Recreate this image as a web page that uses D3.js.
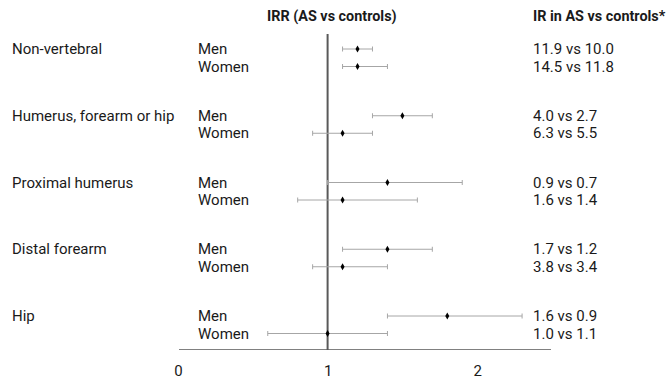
<!DOCTYPE html>
<html>
<head>
<meta charset="utf-8">
<script src="https://cdn.jsdelivr.net/npm/d3@7"></script>
<style>
  body { margin: 0; background: #fff; }
  text { font-family: Roboto, "Open Sans", sans-serif; fill: #1a1a1a; }
</style>
</head>
<body>
<div id="chart"></div>
<script>
var sites = ["Non-vertebral", "Humerus, forearm or hip", "Proximal humerus", "Distal forearm", "Hip"];
var sexes = ["Men", "Women"];
var irr = [1.2, 1.2, 1.5, 1.1, 1.4, 1.1, 1.4, 1.1, 1.8, 1.0];
var lower = [1.1, 1.1, 1.3, 0.9, 1.0, 0.8, 1.1, 0.9, 1.4, 0.6];
var upper = [1.3, 1.4, 1.7, 1.3, 1.9, 1.6, 1.7, 1.4, 2.3, 1.4];
var irText = ["11.9 vs 10.0", "14.5 vs 11.8", "4.0 vs 2.7", "6.3 vs 5.5", "0.9 vs 0.7",
              "1.6 vs 1.4", "1.7 vs 1.2", "3.8 vs 3.4", "1.6 vs 0.9", "1.0 vs 1.1"];
var xTicks = [0, 1, 2];

(function () {
  var width = 670;
  var height = 382;
  var fs = "15px";

  var svg = d3.select("#chart")
    .append("svg")
    .attr("width", width)
    .attr("height", height);

  var x = d3.scaleLinear().domain([0, 2.5]).range([178, 552]);
  // one step per site, small offset per sex
  var yGroup = d3.scaleLinear().domain([0, sites.length - 1]).range([49, 316]);
  var ySex = d3.scalePoint().domain(sexes).range([0, 17.5]);

  var rows = irr.map(function (v, i) {
    var g = Math.floor(i / 2), s = i % 2;
    return { site: sites[g], sex: sexes[s], est: v, lo: lower[i], hi: upper[i], ir: irText[i],
             y: yGroup(g) + ySex(sexes[s]) };
  });

  // headers
  svg.append("text")
    .attr("x", 267).attr("y", 21)
    .style("font-weight", "bold").style("font-size", "14.4px")
    .text("IRR (AS vs controls)");
  svg.append("text")
    .attr("x", 533).attr("y", 21)
    .style("font-weight", "bold").style("font-size", "14.4px")
    .text("IR in AS vs controls*");

  // site labels
  svg.selectAll(".site")
    .data(sites)
    .enter().append("text")
    .attr("class", "site")
    .attr("x", 12)
    .attr("y", function (d, i) { return yGroup(i) + 5; })
    .style("font-size", fs)
    .text(function (d) { return d; });

  // sex labels
  svg.selectAll(".sex")
    .data(rows)
    .enter().append("text")
    .attr("class", "sex")
    .attr("x", 198)
    .attr("y", function (d) { return d.y + 5; })
    .style("font-size", fs)
    .text(function (d) { return d.sex; });

  // IR text
  svg.selectAll(".ir")
    .data(rows)
    .enter().append("text")
    .attr("class", "ir")
    .attr("x", 533)
    .attr("y", function (d) { return d.y + 5; })
    .style("font-size", fs)
    .text(function (d) { return d.ir; });

  // x axis
  var axis = svg.append("g")
    .attr("transform", "translate(0,349)")
    .call(d3.axisBottom(x).tickValues(xTicks).tickSize(0).tickPadding(16).tickFormat(d3.format("d")));
  axis.select(".domain").attr("stroke", "#808080").attr("stroke-width", 1).attr("d", "M179,0.5H551");
  axis.selectAll("text")
    .style("font-size", fs)
    .style("font-family", "Roboto, sans-serif")
    .attr("fill", "#1a1a1a");

  // reference line at IRR = 1
  svg.append("line")
    .attr("x1", x(1)).attr("x2", x(1))
    .attr("y1", 34).attr("y2", 350)
    .attr("stroke", "#595959").attr("stroke-width", 2);

  // CI lines
  var ci = svg.selectAll(".ci")
    .data(rows)
    .enter().append("g")
    .attr("class", "ci")
    .attr("transform", function (d) { return "translate(0," + d.y + ")"; });

  ci.append("line")
    .attr("x1", function (d) { return x(d.lo); })
    .attr("x2", function (d) { return x(d.hi); })
    .attr("stroke", "#a6a6a6").attr("stroke-width", 1);
  ci.append("line")
    .attr("x1", function (d) { return x(d.lo); })
    .attr("x2", function (d) { return x(d.lo); })
    .attr("y1", -2.5).attr("y2", 2.5)
    .attr("stroke", "#a6a6a6").attr("stroke-width", 1);
  ci.append("line")
    .attr("x1", function (d) { return x(d.hi); })
    .attr("x2", function (d) { return x(d.hi); })
    .attr("y1", -2.5).attr("y2", 2.5)
    .attr("stroke", "#a6a6a6").attr("stroke-width", 1);

  ci.append("path")
    .attr("d", d3.symbol().type(d3.symbolDiamond).size(14))
    .attr("transform", function (d) { return "translate(" + x(d.est) + ",0)"; })
    .attr("fill", "#000");
})();
</script>
</body>
</html>
